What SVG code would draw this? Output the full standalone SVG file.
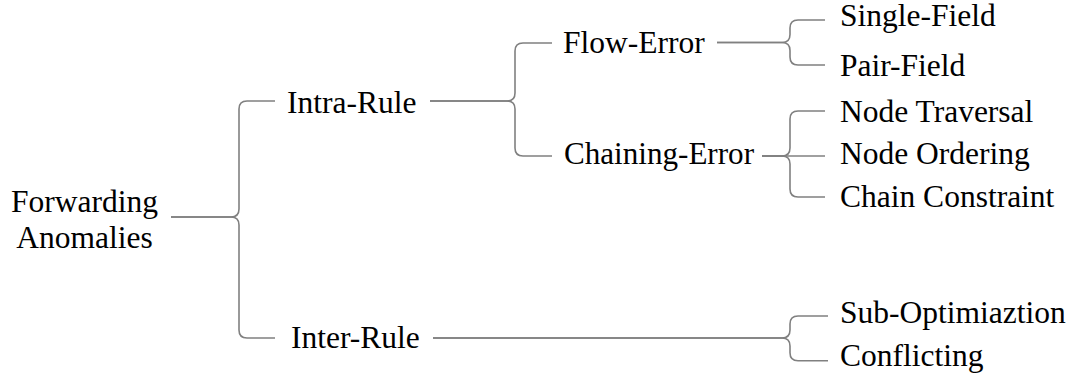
<svg xmlns="http://www.w3.org/2000/svg" width="1075" height="378" viewBox="0 0 1075 378">
<style>
.t text{font-size:31.5px;fill:#000}
.e{fill:none;stroke:#808080;stroke-width:1.6}
</style>
<rect width="1075" height="378" fill="#fff"/>
<g id="connectors">
<path class="e" d="M171 217 H231 Q239 217 239 209 V109 Q239 101 247 101 H275"/>
<path class="e" d="M171 217 H231 Q239 217 239 225 V330 Q239 338 247 338 H275"/>
<path class="e" d="M430 101 H507 Q515 101 515 93 V51 Q515 43 523 43 H552"/>
<path class="e" d="M430 101 H507 Q515 101 515 109 V148 Q515 156 523 156 H552"/>
<path class="e" d="M717 42.5 H782 Q790 42.5 790 34.5 V28 Q790 20 798 20 H825"/>
<path class="e" d="M717 42.5 H782 Q790 42.5 790 50.5 V57 Q790 65 798 65 H825"/>
<path class="e" d="M762 156 H782 Q790 156 790 148 V119 Q790 111 798 111 H825"/>
<path class="e" d="M762 156 H825"/>
<path class="e" d="M762 156 H782 Q790 156 790 164 V189 Q790 197 798 197 H825"/>
<path class="e" d="M433 338 H782 Q790 338 790 330 V324 Q790 316 798 316 H828"/>
<path class="e" d="M433 338 H782 Q790 338 790 346 V352.7 Q790 360.7 798 360.7 H828"/>
</g>
<g class="t" font-family="'Liberation Serif', Tinos, 'Times New Roman', 'DejaVu Serif', serif">
<g id="root"><text x="84.5" y="211.7" text-anchor="middle">Forwarding</text><text x="84.5" y="248.3" text-anchor="middle">Anomalies</text></g>
<g id="intra"><text x="287" y="113">Intra-Rule</text></g>
<g id="inter"><text x="291" y="348">Inter-Rule</text></g>
<g id="flow"><text x="563" y="53">Flow-Error</text></g>
<g id="chaining"><text x="564" y="164" textLength="190" lengthAdjust="spacingAndGlyphs">Chaining-Error</text></g>
<g id="single"><text x="840" y="26">Single-Field</text></g>
<g id="pair"><text x="840" y="76">Pair-Field</text></g>
<g id="traversal"><text x="840" y="122">Node Traversal</text></g>
<g id="ordering"><text x="840" y="164">Node Ordering</text></g>
<g id="constraint"><text x="840" y="207">Chain Constraint</text></g>
<g id="subopt"><text x="840" y="323">Sub-Optimiaztion</text></g>
<g id="conflicting"><text x="840" y="366">Conflicting</text></g>
</g>
</svg>
